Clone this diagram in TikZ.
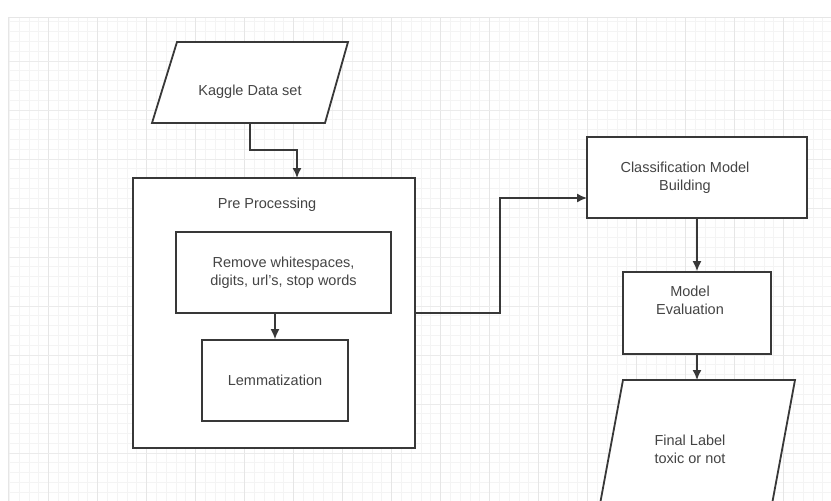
\documentclass[tikz,border=0pt]{standalone}
\usepackage{fontspec}
\setmainfont{Liberation Sans}
\usetikzlibrary{arrows.meta}
\definecolor{edge}{HTML}{383838}
\definecolor{txt}{HTML}{444444}
\definecolor{gridminor}{HTML}{F4F4F4}
\definecolor{gridmajor}{HTML}{E6E6E6}

\begin{document}
\begin{tikzpicture}[x=1pt,y=-1pt,
		box/.style={draw=edge, line width=1.8pt, fill=white, inner sep=0pt},
		lbl/.style={text=txt, font=\fontsize{14.5}{18}\selectfont, align=center, inner sep=0pt},
		arr/.style={-{Latex[length=10pt,width=9pt]}, draw=edge, line width=1.5pt}]
		
		\useasboundingbox (0,0) rectangle (831,501);
		\clip (0,0) rectangle (831,501);
		\fill[white] (0,0) rectangle (831,501);
		
		% grid
		\begin{scope}
			\clip (8,17) rectangle (831,501);
			\foreach \x in {9.3,19.1,...,831} \draw[gridminor, line width=0.8pt] (\x,17) -- (\x,501);
			\foreach \y in {21.8,31.6,...,501} \draw[gridminor, line width=0.8pt] (8,\y) -- (831,\y);
			\foreach \x in {48.5,97.5,...,831} \draw[gridmajor, line width=1pt] (\x,17) -- (\x,501);
			\foreach \y in {61,110,...,501} \draw[gridmajor!80!white, line width=0.9pt] (8,\y) -- (831,\y);
			\draw[gridmajor, line width=1pt] (8,17) -- (831,17);
			\draw[gridmajor, line width=1pt] (8,17) -- (8,501);
		\end{scope}
		
		\coordinate (K1) at (177,42);
		\coordinate (K2) at (348,42);
		\coordinate (K3) at (325,123);
		\coordinate (K4) at (152,123);
		\coordinate (Kb) at (250,123);
		\coordinate (Kj) at (297,150);
		\draw[box] (K1) -- (K2) -- (K3) -- (K4) -- cycle;
		\node[lbl] (tK) at (250,92) {Kaggle Data set};
		
		\node[box, minimum width=282pt, minimum height=270pt] (P) at (274,313) {};
		\node[lbl] (tP) at (267,205) {Pre Processing};
		\coordinate (Pin) at (297,178);
		
		\node[box, lbl, minimum width=215pt, minimum height=81pt] (R) at (283.5,272.5) {Remove whitespaces,\\digits, url's, stop words};
		\node[box, lbl, minimum width=146pt, minimum height=81pt] (L) at (275,380.5) {Lemmatization};
		
		\node[box, minimum width=220pt, minimum height=81pt] (C) at (697,177.5) {};
		\node[lbl] (tC) at (685,177.5) {Classification Model\\Building};
		\coordinate (Pj) at (500,198);
		\coordinate (Cin) at (587,198);
		
		\node[box, minimum width=148pt, minimum height=82pt] (M) at (697,313) {};
		\node[lbl] (tM) at (690,300) {Model\\Evaluation};
		
		\coordinate (F1) at (623,380);
		\coordinate (F2) at (795,380);
		\coordinate (F3) at (770,515);
		\coordinate (F4) at (598,515);
		\coordinate (Ft) at (697,380);
		\draw[box] (F1) -- (F2) -- (F3) -- (F4) -- cycle;
		\node[lbl] (tF) at (690,449) {Final Label\\toxic or not};
		
		\draw[arr] (Kb) |- (Kj) -- (Pin);
		\draw[arr] (L.north |- R.south) -- (L.north);
		\draw[arr] (P.east) -| (Pj) -- (Cin);
		\draw[arr] (C) -- (M);
		\draw[arr] (M.south) -- (Ft);
	\end{tikzpicture}
\end{document}
